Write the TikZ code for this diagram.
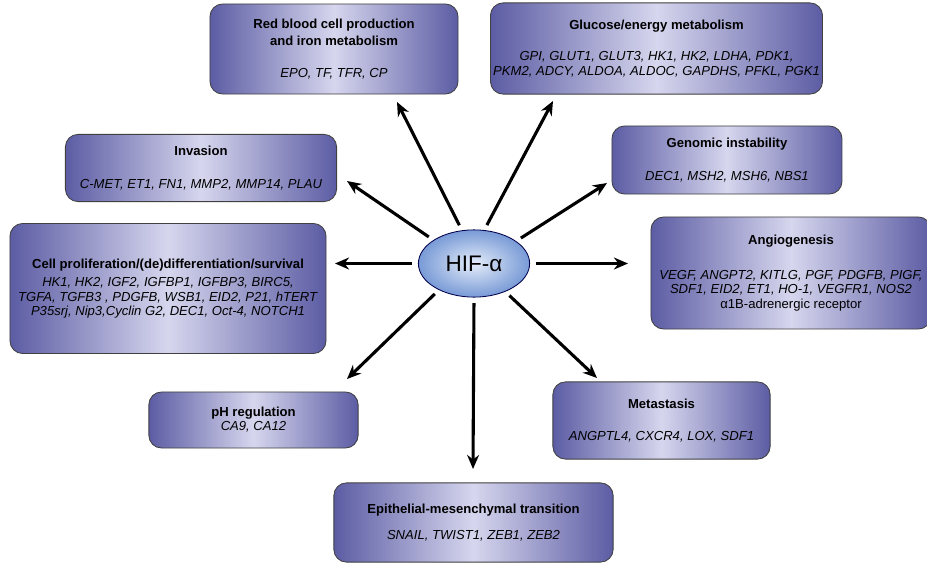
\documentclass[tikz,border=0pt]{standalone}
\usepackage{fontspec}
\setmainfont{Liberation Sans}
\usetikzlibrary{shapes,positioning,calc,arrows.meta}

\definecolor{boxedge}{RGB}{92,92,164}
\definecolor{boxmid}{RGB}{214,214,238}
\definecolor{hifmid}{RGB}{228,236,249}
\definecolor{hifedge}{RGB}{120,154,214}

\begin{document}
\begin{tikzpicture}[x=0.025cm, y=-0.025cm,
    topic/.style={draw=black!75, line width=0.6pt, rounded corners=9pt,
      left color=boxedge, right color=boxedge, middle color=boxmid,
      align=center, inner sep=0pt, font=\fontsize{9.3}{10}\selectfont},
    hif/.style={ellipse, draw=black!70!blue, line width=0.6pt,
      inner color=hifmid, outer color=hifedge, inner sep=0pt,
      minimum width=2.78cm, minimum height=1.68cm, font=\fontsize{16}{18}\selectfont},
    arr/.style={-{Stealth[length=10pt,width=8.5pt]}, line width=2.2pt, shorten <=4pt}]

    \useasboundingbox (0,0) rectangle (927,565);

    % HIF in the middle
    \node[hif] (hif) at (474,263.5) {HIF-α};

    % Target boxes, top row
    \node[topic, minimum width=6.2cm, minimum height=2.25cm] (rbc) at (334,49)
        {\textbf{Red blood cell production}\\[2pt]\textbf{and iron metabolism}\\[12.5pt]
         \textit{EPO, TF, TFR, CP}};
    \node[topic, minimum width=8.3cm, minimum height=2.28cm] (glucose) at (656.5,48.5)
        {\textbf{Glucose/energy metabolism}\\[12pt]
         \textit{GPI, GLUT1, GLUT3, HK1, HK2, LDHA, PDK1,}\\[1pt]
         \textit{PKM2, ADCY, ALDOA, ALDOC, GAPDHS, PFKL, PGK1}};

    % Left side
    \node[topic, minimum width=6.78cm, minimum height=1.68cm] (invasion) at (201,168)
        {\textbf{Invasion}\\[13pt]\textit{C-MET, ET1, FN1, MMP2, MMP14, PLAU}};
    \node[topic, minimum width=7.9cm, minimum height=3.25cm] (prolif) at (168,288.5)
        {\textbf{Cell proliferation/(de)differentiation/survival}\\[3pt]
         \textit{HK1, HK2, IGF2, IGFBP1, IGFBP3, BIRC5,}\\
         \textit{TGFA, TGFB3 , PDGFB, WSB1, EID2, P21, hTERT}\\
         \textit{P35srj, Nip3,Cyclin G2, DEC1, Oct-4, NOTCH1}};
    \node[topic, minimum width=5.23cm, minimum height=1.4cm] (ph) at (253.5,420)
        {\textbf{pH regulation}\\\textit{CA9, CA12}};

    % Right side
    \node[topic, minimum width=5.75cm, minimum height=1.7cm] (genomic) at (727,160)
        {\textbf{Genomic instability}\\[13.5pt]\textit{DEC1, MSH2, MSH6, NBS1}};
    \node[topic, minimum width=7.0cm, minimum height=2.8cm] (angio) at (791,273)
        {\textbf{Angiogenesis}\\[15pt]
         \textit{VEGF, ANGPT2, KITLG, PGF, PDGFB, PIGF,}\\
         \textit{SDF1, EID2, ET1, HO-1, VEGFR1, NOS2}\\
         α1B-adrenergic receptor};
    \node[topic, minimum width=5.43cm, minimum height=1.93cm] (metastasis) at (661.5,420.5)
        {\textbf{Metastasis}\\[13pt]\textit{ANGPTL4, CXCR4, LOX, SDF1}};

    % Bottom
    \node[topic, minimum width=6.98cm, minimum height=1.98cm] (emt) at (473.5,522.5)
        {\textbf{Epithelial-mesenchymal transition}\\[8.5pt]\textit{SNAIL, TWIST1, ZEB1, ZEB2}};

    % Arrow tips, just short of the boxes
    \coordinate (t-rbc) at (397,102);
    \coordinate (t-glucose) at (553,101);
    \coordinate (t-invasion) at (347,181);
    \coordinate (t-genomic) at (607,183);
    \coordinate (t-prolif) at (335,263.5);
    \coordinate (t-angio) at (628,263.5);
    \coordinate (t-ph) at (347,379);
    \coordinate (t-metastasis) at (597,378);
    \coordinate (t-emt) at (473,469);

    % Arrows out of HIF
    \draw[arr] (hif.110) -- (t-rbc);
    \draw[arr] (hif.73) -- (t-glucose);
    \draw[arr] (hif.150) -- (t-invasion);
    \draw[arr] (hif.28) -- (t-genomic);
    \draw[arr] (hif.180) -- (t-prolif);
    \draw[arr] (hif.0) -- (t-angio);
    \draw[arr] (hif.217) -- (t-ph);
    \draw[arr] (hif.318) -- (t-metastasis);
    \draw[arr] (hif.270) -- (t-emt);
\end{tikzpicture}
\end{document}
